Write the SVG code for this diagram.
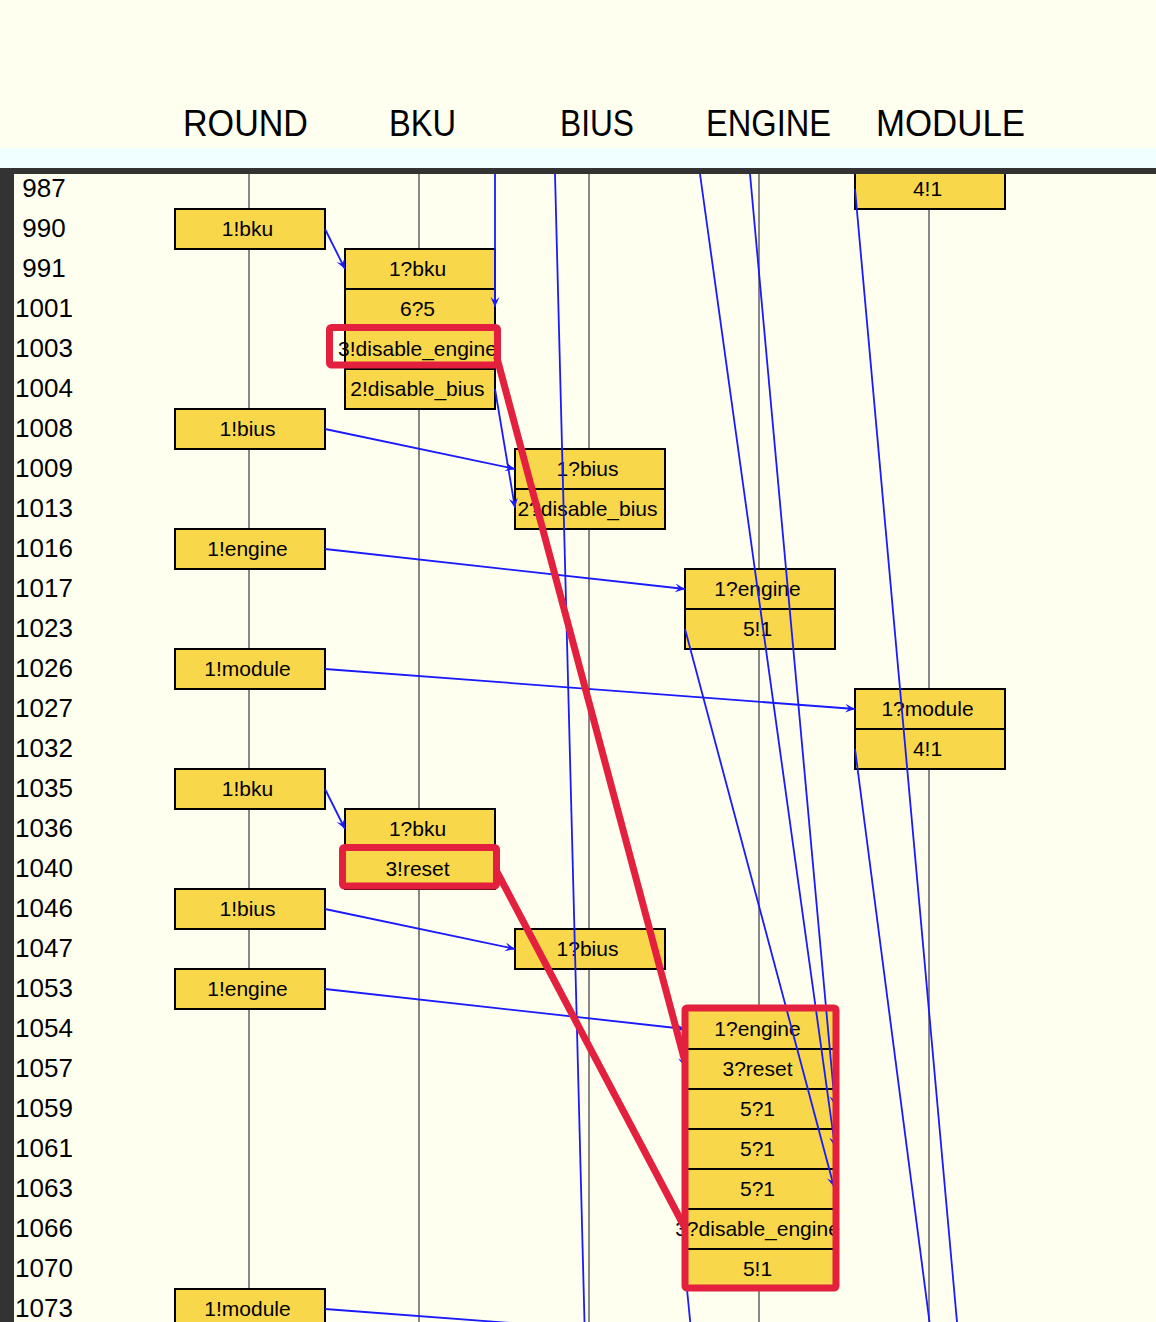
<svg xmlns="http://www.w3.org/2000/svg" width="1156" height="1322" viewBox="0 0 1156 1322">
<style>
.life{stroke:#888;stroke-width:2}
.box rect{fill:#f8d74b;stroke:#000;stroke-width:2}
.box line{stroke:#000;stroke-width:2}
.lbl{font-family:"Liberation Sans",Arial,sans-serif;font-size:21px;text-anchor:middle;fill:#000}
.num{font-family:"Liberation Sans",Arial,sans-serif;font-size:26px;text-anchor:middle;fill:#000}
.hdr{font-family:"Liberation Sans",Arial,sans-serif;font-size:37px;fill:#000}
.msg{stroke:#1a1aff;stroke-width:1.8;fill:none}
.ann{stroke:#e3213f;stroke-width:7;fill:none;stroke-linejoin:round;stroke-linecap:round}
</style>
<defs>
<marker id="ah" markerUnits="userSpaceOnUse" markerWidth="12" markerHeight="10" refX="10" refY="4.5" orient="auto">
<path d="M0,0 L10,4.5 L0,9 L4,4.5 z" fill="#1a1aff"/>
</marker>
</defs>
<rect x="0" y="0" width="1156" height="1322" fill="#fffff0"/>
<rect x="0" y="148" width="1156" height="20" fill="#f0ffff"/>
<g id="header">
<text class="hdr" x="183" y="136" textLength="125" lengthAdjust="spacingAndGlyphs">ROUND</text>
<text class="hdr" x="389" y="136" textLength="67" lengthAdjust="spacingAndGlyphs">BKU</text>
<text class="hdr" x="560" y="136" textLength="74" lengthAdjust="spacingAndGlyphs">BIUS</text>
<text class="hdr" x="706" y="136" textLength="125" lengthAdjust="spacingAndGlyphs">ENGINE</text>
<text class="hdr" x="876" y="136" textLength="149" lengthAdjust="spacingAndGlyphs">MODULE</text>
</g>
<g id="lifelines">
<line class="life" x1="249" y1="174" x2="249" y2="1322"/>
<line class="life" x1="419" y1="174" x2="419" y2="1322"/>
<line class="life" x1="589" y1="174" x2="589" y2="1322"/>
<line class="life" x1="759" y1="174" x2="759" y2="1322"/>
<line class="life" x1="929" y1="174" x2="929" y2="1322"/>
</g>
<g id="rownumbers">
<text class="num" x="44" y="197">987</text>
<text class="num" x="44" y="237">990</text>
<text class="num" x="44" y="277">991</text>
<text class="num" x="44" y="317">1001</text>
<text class="num" x="44" y="357">1003</text>
<text class="num" x="44" y="397">1004</text>
<text class="num" x="44" y="437">1008</text>
<text class="num" x="44" y="477">1009</text>
<text class="num" x="44" y="517">1013</text>
<text class="num" x="44" y="557">1016</text>
<text class="num" x="44" y="597">1017</text>
<text class="num" x="44" y="637">1023</text>
<text class="num" x="44" y="677">1026</text>
<text class="num" x="44" y="717">1027</text>
<text class="num" x="44" y="757">1032</text>
<text class="num" x="44" y="797">1035</text>
<text class="num" x="44" y="837">1036</text>
<text class="num" x="44" y="877">1040</text>
<text class="num" x="44" y="917">1046</text>
<text class="num" x="44" y="957">1047</text>
<text class="num" x="44" y="997">1053</text>
<text class="num" x="44" y="1037">1054</text>
<text class="num" x="44" y="1077">1057</text>
<text class="num" x="44" y="1117">1059</text>
<text class="num" x="44" y="1157">1061</text>
<text class="num" x="44" y="1197">1063</text>
<text class="num" x="44" y="1237">1066</text>
<text class="num" x="44" y="1277">1070</text>
<text class="num" x="44" y="1317">1073</text>
</g>
<g id="round-990" class="box"><rect x="175" y="209" width="150" height="40"/><text class="lbl" x="247.5" y="236">1!bku</text></g>
<g id="round-1008" class="box"><rect x="175" y="409" width="150" height="40"/><text class="lbl" x="247.5" y="436">1!bius</text></g>
<g id="round-1016" class="box"><rect x="175" y="529" width="150" height="40"/><text class="lbl" x="247.5" y="556">1!engine</text></g>
<g id="round-1026" class="box"><rect x="175" y="649" width="150" height="40"/><text class="lbl" x="247.5" y="676">1!module</text></g>
<g id="round-1035" class="box"><rect x="175" y="769" width="150" height="40"/><text class="lbl" x="247.5" y="796">1!bku</text></g>
<g id="round-1046" class="box"><rect x="175" y="889" width="150" height="40"/><text class="lbl" x="247.5" y="916">1!bius</text></g>
<g id="round-1053" class="box"><rect x="175" y="969" width="150" height="40"/><text class="lbl" x="247.5" y="996">1!engine</text></g>
<g id="round-1073" class="box"><rect x="175" y="1289" width="150" height="40"/><text class="lbl" x="247.5" y="1316">1!module</text></g>
<g id="bku-991" class="box">
<rect x="345" y="249" width="150" height="160"/>
<line x1="345" y1="289" x2="495" y2="289"/><line x1="345" y1="329" x2="495" y2="329"/><line x1="345" y1="369" x2="495" y2="369"/>
<text class="lbl" x="417.5" y="276">1?bku</text>
<text class="lbl" x="417.5" y="316">6?5</text>
<text class="lbl" x="417.5" y="356">3!disable_engine</text>
<text class="lbl" x="417.5" y="396">2!disable_bius</text>
</g>
<g id="bku-1036" class="box">
<rect x="345" y="809" width="150" height="80"/>
<line x1="345" y1="849" x2="495" y2="849"/>
<text class="lbl" x="417.5" y="836">1?bku</text>
<text class="lbl" x="417.5" y="876">3!reset</text>
</g>
<g id="bius-1009" class="box">
<rect x="515" y="449" width="150" height="80"/>
<line x1="515" y1="489" x2="665" y2="489"/>
<text class="lbl" x="587.5" y="476">1?bius</text>
<text class="lbl" x="587.5" y="516">2?disable_bius</text>
</g>
<g id="bius-1047" class="box"><rect x="515" y="929" width="150" height="40"/><text class="lbl" x="587.5" y="956">1?bius</text></g>
<g id="engine-1017" class="box">
<rect x="685" y="569" width="150" height="80"/>
<line x1="685" y1="609" x2="835" y2="609"/>
<text class="lbl" x="757.5" y="596">1?engine</text>
<text class="lbl" x="757.5" y="636">5!1</text>
</g>
<g id="engine-1054" class="box">
<rect x="685" y="1009" width="150" height="280"/>
<line x1="685" y1="1049" x2="835" y2="1049"/><line x1="685" y1="1089" x2="835" y2="1089"/><line x1="685" y1="1129" x2="835" y2="1129"/>
<line x1="685" y1="1169" x2="835" y2="1169"/><line x1="685" y1="1209" x2="835" y2="1209"/><line x1="685" y1="1249" x2="835" y2="1249"/>
<text class="lbl" x="757.5" y="1036">1?engine</text>
<text class="lbl" x="757.5" y="1076">3?reset</text>
<text class="lbl" x="757.5" y="1116">5?1</text>
<text class="lbl" x="757.5" y="1156">5?1</text>
<text class="lbl" x="757.5" y="1196">5?1</text>
<text class="lbl" x="757.5" y="1236">3?disable_engine</text>
<text class="lbl" x="757.5" y="1276">5!1</text>
</g>
<g id="module-987" class="box"><rect x="855" y="169" width="150" height="40"/><text class="lbl" x="927.5" y="196">4!1</text></g>
<g id="module-1027" class="box">
<rect x="855" y="689" width="150" height="80"/>
<line x1="855" y1="729" x2="1005" y2="729"/>
<text class="lbl" x="927.5" y="716">1?module</text>
<text class="lbl" x="927.5" y="756">4!1</text>
</g>
<g id="connectors">
<line class="msg" x1="325" y1="229" x2="345" y2="269" marker-end="url(#ah)"/>
<line class="msg" x1="495" y1="174" x2="495" y2="307" marker-end="url(#ah)"/>
<line class="msg" x1="555" y1="174" x2="584.5" y2="1322"/>
<line class="msg" x1="700" y1="174" x2="835" y2="1147" marker-end="url(#ah)"/>
<line class="msg" x1="750" y1="174" x2="835" y2="1106" marker-end="url(#ah)"/>
<line class="msg" x1="855" y1="189" x2="957" y2="1322"/>
<line class="msg" x1="855" y1="749" x2="929.5" y2="1322"/>
<line class="msg" x1="685" y1="629" x2="834" y2="1187" marker-end="url(#ah)"/>
<line class="msg" x1="685" y1="1269" x2="692" y2="1340"/>
<line class="msg" x1="325" y1="429" x2="515" y2="469" marker-end="url(#ah)"/>
<line class="msg" x1="495" y1="389" x2="515" y2="508" marker-end="url(#ah)"/>
<line class="msg" x1="325" y1="549" x2="685" y2="589" marker-end="url(#ah)"/>
<line class="msg" x1="325" y1="669" x2="855" y2="709" marker-end="url(#ah)"/>
<line class="msg" x1="325" y1="789" x2="345" y2="829" marker-end="url(#ah)"/>
<line class="msg" x1="325" y1="909" x2="515" y2="949" marker-end="url(#ah)"/>
<line class="msg" x1="325" y1="989" x2="685" y2="1029" marker-end="url(#ah)"/>
<line class="msg" x1="495" y1="349" x2="685" y2="1067" marker-end="url(#ah)"/>
<line class="msg" x1="495" y1="869" x2="685" y2="1227" marker-end="url(#ah)"/>
<line class="msg" x1="325" y1="1309" x2="855" y2="1349"/>
</g>
<g id="annotations">
<rect class="ann" x="329.5" y="327.5" width="168" height="37.5" rx="2"/>
<rect class="ann" x="342.5" y="847.5" width="154" height="38.5" rx="2"/>
<rect class="ann" x="685" y="1008" width="151" height="280" rx="2"/>
<line class="ann" x1="497" y1="358" x2="684" y2="1058"/>
<line class="ann" x1="497" y1="872" x2="684" y2="1226"/>
</g>
<rect x="0" y="168" width="1156" height="6" fill="#333"/>
<rect x="0" y="168" width="14" height="1154" fill="#333"/>
</svg>
